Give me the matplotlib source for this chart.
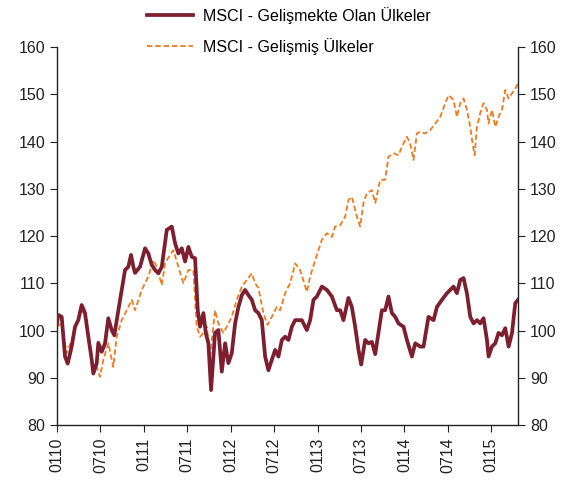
import matplotlib
matplotlib.use("Agg")
import matplotlib.pyplot as plt

plt.rcParams['font.family'] = ['Liberation Sans', 'DejaVu Sans']

# months since January 2010
months_em = [0.0, 0.18, 0.65, 1.11, 1.48, 2.03, 2.49, 2.94, 3.41, 3.87, 4.33, 4.80, 5.02, 5.49, 5.71,
             6.18, 6.64, 7.09, 7.56, 7.92, 8.48, 8.95, 9.40, 9.86, 10.23, 10.55, 10.78, 11.48, 12.17,
             12.62, 13.09, 13.55, 14.01, 14.48, 15.17, 15.86, 16.31, 16.77, 17.24, 17.70, 18.15, 18.62,
             19.08, 19.45, 19.77, 20.23, 20.56, 20.92, 21.29, 21.84, 22.30, 22.77, 23.23, 23.68, 24.15,
             24.61, 25.07, 25.54, 25.99, 26.45, 26.92, 27.37, 27.83, 28.30, 28.76, 29.21, 29.68, 30.14,
             30.60, 31.07, 31.52, 31.98, 32.45, 32.91, 33.83, 34.52, 34.98, 35.44, 35.91, 36.60, 37.29,
             37.98, 38.67, 39.13, 39.58, 40.27, 40.74, 41.20, 41.66, 42.03, 42.58, 43.04, 43.51, 43.97,
             44.42, 44.89, 45.35, 45.80, 46.27, 46.73, 47.19, 47.88, 48.35, 49.04, 49.50, 50.19, 50.64,
             51.33, 52.03, 52.50, 53.19, 53.88, 54.33, 54.79, 55.26, 55.72, 56.17, 56.64, 57.10, 57.56,
             58.03, 58.48, 58.94, 59.41, 59.63, 60.10, 60.56, 61.01, 61.48, 61.94, 62.40, 62.87, 63.32,
             63.70]
values_em = [101.5, 103.3, 102.9, 94.5, 93.0, 96.6, 100.8, 102.2, 105.4, 103.7, 98.7, 93.8, 90.9, 93.1, 97.4,
             95.5, 97.3, 102.6, 100.1, 99.0, 104.3, 108.6, 112.8, 113.5, 116.0, 113.5, 112.2, 113.5, 117.4,
             116.3, 113.9, 112.8, 112.1, 113.5, 121.3, 122.0, 118.5, 116.3, 117.4, 114.6, 117.7, 115.6,
             115.3, 104.3, 100.8, 103.7, 99.5, 97.3, 87.4, 99.5, 100.1, 91.3, 97.3, 93.1, 95.2,
             101.5, 105.0, 107.5, 108.6, 107.5, 106.5, 104.3, 103.7, 102.2, 94.5, 91.6, 93.8, 95.9,
             94.5, 98.0, 98.7, 98.0, 100.8, 102.2, 102.2, 100.1, 102.2, 106.5, 107.2, 109.3, 108.6,
             107.2, 104.3, 104.3, 102.2, 106.9, 105.0, 100.8, 95.9, 92.8, 98.0, 97.3, 97.6, 95.0,
             99.5, 104.3, 104.3, 107.2, 103.7, 102.9, 101.5, 100.8, 98.0, 94.5, 97.3, 96.6, 96.6,
             102.9, 102.2, 105.0, 106.5, 107.9, 108.6, 109.3, 107.9, 110.7, 111.1, 107.9, 102.9, 101.5,
             102.2, 101.5, 102.6, 98.0, 94.5, 96.6, 97.3, 99.5, 99.0, 100.5, 96.6, 99.5, 105.8,
             106.5]

months_dev = [0.0, 0.65, 1.34, 2.03, 2.72, 3.41, 4.11, 4.56, 5.02, 5.49, 5.94, 6.40, 7.09, 7.78, 8.25,
              8.95, 9.64, 10.33, 10.78, 11.71, 12.62, 13.31, 13.78, 14.48, 14.93, 15.62, 16.08, 16.77,
              17.46, 18.15, 18.84, 19.31, 19.77, 20.23, 20.70, 21.15, 21.84, 22.30, 22.99, 23.46, 24.15,
              24.84, 25.54, 26.23, 26.92, 27.37, 27.83, 28.52, 29.08, 29.68, 30.37, 30.83, 31.52, 32.21,
              32.91, 33.60, 34.52, 34.98, 35.67, 36.60, 37.29, 37.98, 38.43, 39.13, 39.82, 40.27, 40.74,
              41.43, 41.89, 42.35, 42.82, 43.51, 43.97, 44.66, 45.35, 45.80, 46.50, 47.19, 47.66, 48.35,
              48.80, 49.26, 49.73, 50.19, 50.88, 51.57, 52.26, 52.95, 53.64, 54.10, 54.79, 55.26, 55.72,
              56.17, 56.64, 57.10, 57.42, 57.70, 58.03, 58.48, 58.94, 59.41, 59.63, 60.10, 60.56, 61.01,
              61.48, 61.94, 62.40, 62.87, 63.32, 63.70]
values_dev = [100.8, 101.5, 95.2, 98.0, 101.5, 104.7, 101.5, 96.6, 91.6, 92.3, 90.2, 93.8, 97.3, 92.3, 98.7,
              102.2, 104.3, 106.5, 104.3, 108.6, 111.4, 114.9, 113.5, 109.6, 114.2, 116.0, 117.0, 113.5,
              110.0, 112.8, 112.8, 100.8, 98.7, 99.5, 100.8, 94.5, 104.3, 101.5, 99.5, 100.8, 102.9,
              106.5, 109.3, 110.7, 112.1, 110.0, 109.0, 103.7, 101.2, 102.9, 105.0, 104.3, 107.9, 110.0,
              114.2, 112.8, 108.2, 111.4, 114.9, 119.2, 120.6, 119.8, 122.0, 122.3, 124.1, 127.6, 128.3,
              124.1, 122.0, 127.0, 129.1, 129.7, 127.0, 131.9, 131.9, 136.8, 137.5, 137.1, 138.9, 141.0,
              139.6, 136.1, 141.7, 142.1, 141.7, 142.4, 143.8, 145.2, 148.1, 149.8, 148.8, 145.2, 148.1,
              149.1, 146.7, 143.1, 139.6, 137.1, 143.1, 146.0, 148.1, 146.7, 143.8, 146.7, 143.1, 145.2,
              146.7, 150.9, 149.1, 150.2, 151.2, 152.3]

tick_months = [0, 6, 12, 18, 24, 30, 36, 42, 48, 54, 60]
tick_labels = ['0110', '0710', '0111', '0711', '0112', '0712', '0113', '0713', '0114', '0714', '0115']
y_ticks = [80, 90, 100, 110, 120, 130, 140, 150, 160]

label_em = 'MSCI - Gelişmekte Olan Ülkeler'
label_dev = 'MSCI - Gelişmiş Ülkeler'

fig = plt.figure(figsize=(5.71, 4.88), dpi=100)
ax = fig.add_axes([0.0998, 0.129, 0.8074, 0.7747])

ax.plot(months_em, values_em, color='#7D1F2F', lw=2.7, label=label_em, solid_joinstyle='round', zorder=3)
ax.plot(months_dev, values_dev, color='#EE7B22', lw=1.3, ls=(0, (3, 1.6)), label=label_dev, zorder=2)

ax.set_xlim(0, 63.7)
ax.set_ylim(80, 160)
ax.set_yticks(y_ticks)
ax.set_xticks(tick_months)
ax.set_xticklabels(tick_labels, rotation=90)

ax.spines['top'].set_visible(False)
for s in ['left', 'right', 'bottom']:
    ax.spines[s].set_color('#222222')
    ax.spines[s].set_linewidth(1.0)

ax.tick_params(axis='both', labelsize=11.5, colors='#222222', direction='out', length=5)
ax.tick_params(axis='y', right=True, labelright=True)
ax.tick_params(axis='x', pad=4)

fig.legend(loc='upper left', bbox_to_anchor=(0.232, 1.015), frameon=False, fontsize=11.5,
           handlelength=2.9, handletextpad=0.6, labelspacing=0.85)

fig.savefig('out.png', dpi=100)
